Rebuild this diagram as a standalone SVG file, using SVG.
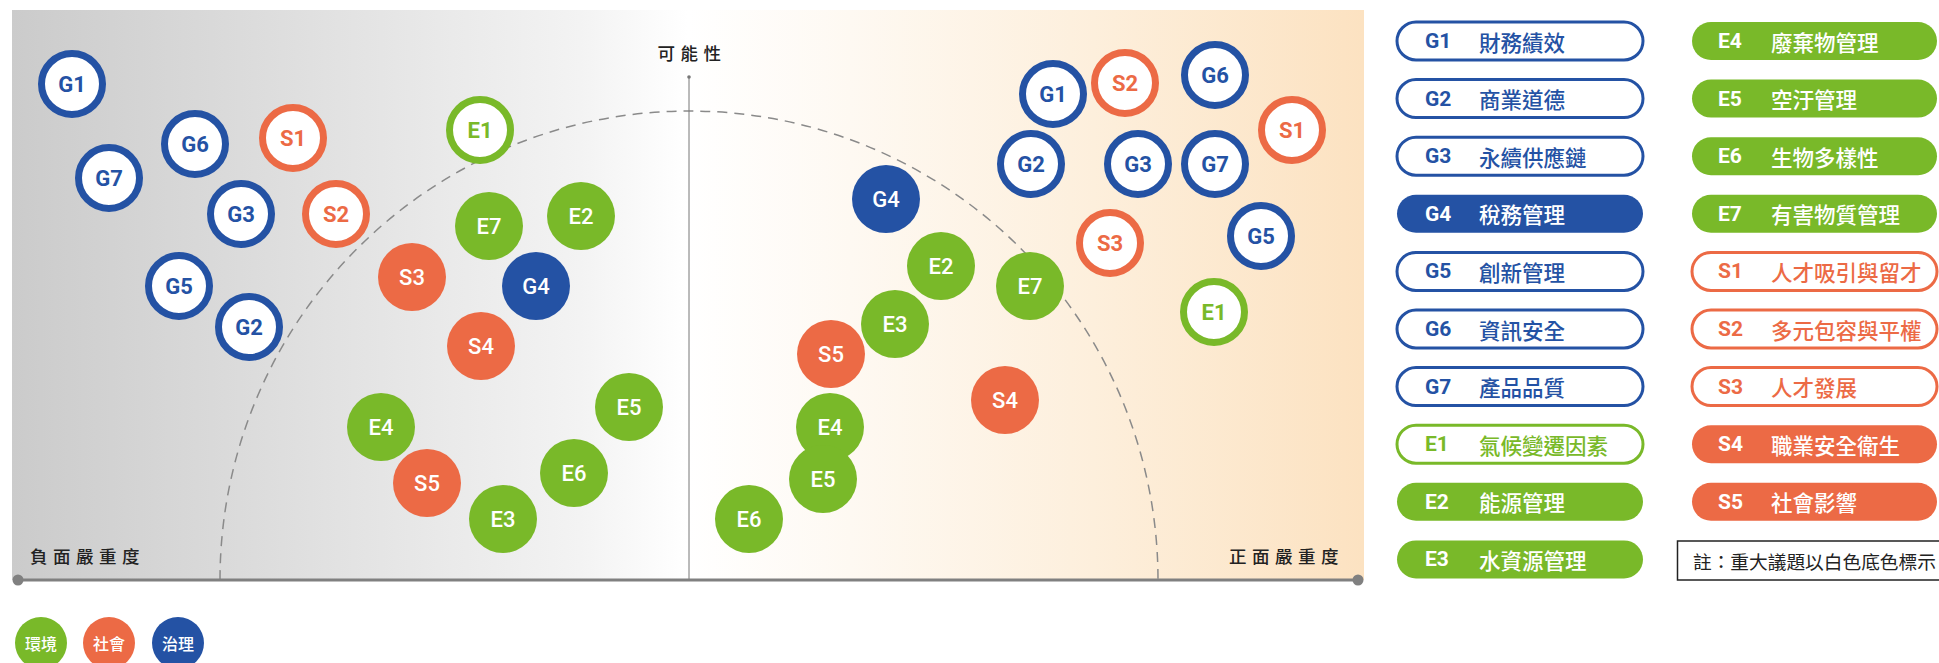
<svg xmlns="http://www.w3.org/2000/svg" width="1939" height="663" viewBox="0 0 1939 663">
<defs>
<linearGradient id="bg" x1="0" y1="0" x2="1" y2="0">
<stop offset="0" stop-color="#cbcbcb"/>
<stop offset="0.2" stop-color="#dedede"/>
<stop offset="0.42" stop-color="#f3f3f3"/>
<stop offset="0.5" stop-color="#ffffff"/>
<stop offset="0.62" stop-color="#fef9f2"/>
<stop offset="0.8" stop-color="#fdefdc"/>
<stop offset="1" stop-color="#fce2c1"/>
</linearGradient>
<style>
.ob{fill:#fff;stroke:#2452a4;stroke-width:7}
.oo{fill:#fff;stroke:#ec6a45;stroke-width:7}
.og{fill:#fff;stroke:#79b929;stroke-width:7}
.fb{fill:#2452a4}
.fo{fill:#ec6a45}
.fg{fill:#79b929}
.lab{font-family:Roboto,"Liberation Sans",sans-serif;font-size:22px;text-anchor:middle;dominant-baseline:central}
.lo{font-weight:700}
.lf{fill:#fff;font-weight:500}
.tb{fill:#2452a4}.to{fill:#ec6a45}.tg{fill:#79b929}.tw{fill:#fff}
.ax{font-family:"Noto Sans CJK TC","Noto Sans CJK SC",sans-serif;font-size:17.5px;font-weight:500;fill:#222;letter-spacing:5.5px}
.code{font-family:Roboto,"Liberation Sans",sans-serif;font-size:21px;font-weight:700;dominant-baseline:central}
.cj{font-family:"Noto Sans CJK TC","Noto Sans CJK SC",sans-serif;font-size:21.5px;font-weight:500;dominant-baseline:central}
.pb{fill:#fff;stroke:#2452a4;stroke-width:3}
.po{fill:#fff;stroke:#ec6a45;stroke-width:3}
.pg{fill:#fff;stroke:#79b929;stroke-width:3}
.leg{font-family:"Noto Sans CJK TC","Noto Sans CJK SC",sans-serif;font-size:16px;font-weight:500;fill:#fff;text-anchor:middle;dominant-baseline:central}
</style>
</defs>
<rect x="12" y="10" width="1352" height="570" fill="url(#bg)"/>
<g id="connectors">
<path d="M220 580 A469 469 0 0 1 1158 580" fill="none" stroke="#8a8a8a" stroke-width="1.5" stroke-dasharray="10 7"/>
<line x1="689" y1="77" x2="689" y2="580" stroke="#777" stroke-width="1"/>
<circle cx="689" cy="77" r="1.8" fill="#777"/>
<line x1="16" y1="580" x2="1358" y2="580" stroke="#808080" stroke-width="3"/>
<circle cx="18" cy="580" r="5.5" fill="#808080"/>
<circle cx="1358" cy="580" r="5.5" fill="#808080"/>
</g>
<text class="ax" x="692" y="60" text-anchor="middle">可能性</text>
<text class="ax" x="30" y="563">負面嚴重度</text>
<text class="ax" x="1229" y="563">正面嚴重度</text>
<!-- left side -->
<g id="L-G1"><circle class="ob" cx="72" cy="84" r="30.5"/><text class="lab lo tb" x="72" y="84">G1</text></g>
<g id="L-G6"><circle class="ob" cx="195" cy="144" r="30.5"/><text class="lab lo tb" x="195" y="144">G6</text></g>
<g id="L-S1"><circle class="oo" cx="293" cy="138" r="30.5"/><text class="lab lo to" x="293" y="138">S1</text></g>
<g id="L-G7"><circle class="ob" cx="109" cy="178" r="30.5"/><text class="lab lo tb" x="109" y="178">G7</text></g>
<g id="L-G3"><circle class="ob" cx="241" cy="214" r="30.5"/><text class="lab lo tb" x="241" y="214">G3</text></g>
<g id="L-S2"><circle class="oo" cx="336" cy="214" r="30.5"/><text class="lab lo to" x="336" y="214">S2</text></g>
<g id="L-E1"><circle class="og" cx="480" cy="130" r="30.5"/><text class="lab lo tg" x="480" y="130">E1</text></g>
<g id="L-E7"><circle class="fg" cx="489" cy="226" r="34"/><text class="lab lf" x="489" y="226">E7</text></g>
<g id="L-E2"><circle class="fg" cx="581" cy="216" r="34"/><text class="lab lf" x="581" y="216">E2</text></g>
<g id="L-S3"><circle class="fo" cx="412" cy="277" r="34"/><text class="lab lf" x="412" y="277">S3</text></g>
<g id="L-G4"><circle class="fb" cx="536" cy="286" r="34"/><text class="lab lf" x="536" y="286">G4</text></g>
<g id="L-G5"><circle class="ob" cx="179" cy="286" r="30.5"/><text class="lab lo tb" x="179" y="286">G5</text></g>
<g id="L-G2"><circle class="ob" cx="249" cy="327" r="30.5"/><text class="lab lo tb" x="249" y="327">G2</text></g>
<g id="L-S4"><circle class="fo" cx="481" cy="346" r="34"/><text class="lab lf" x="481" y="346">S4</text></g>
<g id="L-E5"><circle class="fg" cx="629" cy="407" r="34"/><text class="lab lf" x="629" y="407">E5</text></g>
<g id="L-E4"><circle class="fg" cx="381" cy="427" r="34"/><text class="lab lf" x="381" y="427">E4</text></g>
<g id="L-E6"><circle class="fg" cx="574" cy="473" r="34"/><text class="lab lf" x="574" y="473">E6</text></g>
<g id="L-S5"><circle class="fo" cx="427" cy="483" r="34"/><text class="lab lf" x="427" y="483">S5</text></g>
<g id="L-E3"><circle class="fg" cx="503" cy="519" r="34"/><text class="lab lf" x="503" y="519">E3</text></g>
<!-- right side -->
<g id="R-G1"><circle class="ob" cx="1053" cy="94" r="30.5"/><text class="lab lo tb" x="1053" y="94">G1</text></g>
<g id="R-S2"><circle class="oo" cx="1125" cy="83" r="30.5"/><text class="lab lo to" x="1125" y="83">S2</text></g>
<g id="R-G6"><circle class="ob" cx="1215" cy="75" r="30.5"/><text class="lab lo tb" x="1215" y="75">G6</text></g>
<g id="R-S1"><circle class="oo" cx="1292" cy="130" r="30.5"/><text class="lab lo to" x="1292" y="130">S1</text></g>
<g id="R-G2"><circle class="ob" cx="1031" cy="164" r="30.5"/><text class="lab lo tb" x="1031" y="164">G2</text></g>
<g id="R-G3"><circle class="ob" cx="1138" cy="164" r="30.5"/><text class="lab lo tb" x="1138" y="164">G3</text></g>
<g id="R-G7"><circle class="ob" cx="1215" cy="164" r="30.5"/><text class="lab lo tb" x="1215" y="164">G7</text></g>
<g id="R-G4"><circle class="fb" cx="886" cy="199" r="34"/><text class="lab lf" x="886" y="199">G4</text></g>
<g id="R-S3"><circle class="oo" cx="1110" cy="243" r="30.5"/><text class="lab lo to" x="1110" y="243">S3</text></g>
<g id="R-G5"><circle class="ob" cx="1261" cy="236" r="30.5"/><text class="lab lo tb" x="1261" y="236">G5</text></g>
<g id="R-E2"><circle class="fg" cx="941" cy="266" r="34"/><text class="lab lf" x="941" y="266">E2</text></g>
<g id="R-E7"><circle class="fg" cx="1030" cy="286" r="34"/><text class="lab lf" x="1030" y="286">E7</text></g>
<g id="R-E1"><circle class="og" cx="1214" cy="312" r="30.5"/><text class="lab lo tg" x="1214" y="312">E1</text></g>
<g id="R-E3"><circle class="fg" cx="895" cy="324" r="34"/><text class="lab lf" x="895" y="324">E3</text></g>
<g id="R-S5"><circle class="fo" cx="831" cy="354" r="34"/><text class="lab lf" x="831" y="354">S5</text></g>
<g id="R-S4"><circle class="fo" cx="1005" cy="400" r="34"/><text class="lab lf" x="1005" y="400">S4</text></g>
<g id="R-E4"><circle class="fg" cx="830" cy="427" r="34"/><text class="lab lf" x="830" y="427">E4</text></g>
<g id="R-E5"><circle class="fg" cx="823" cy="479" r="34"/><text class="lab lf" x="823" y="479">E5</text></g>
<g id="R-E6"><circle class="fg" cx="749" cy="519" r="34"/><text class="lab lf" x="749" y="519">E6</text></g>
<!-- category legend -->
<g id="leg-env"><circle class="fg" cx="41" cy="643" r="26"/><text class="leg" x="41" y="643">環境</text></g>
<g id="leg-soc"><circle class="fo" cx="109" cy="643" r="26"/><text class="leg" x="109" y="643">社會</text></g>
<g id="leg-gov"><circle class="fb" cx="178" cy="643" r="26"/><text class="leg" x="178" y="643">治理</text></g>
<!-- issue legend column 1 -->
<g id="p-G1"><rect class="pb" x="1397" y="22" width="246" height="38" rx="19"/><text class="code tb" x="1425" y="41">G1</text><text class="cj tb" x="1479" y="41">財務績效</text></g>
<g id="p-G2"><rect class="pb" x="1397" y="79.6" width="246" height="38" rx="19"/><text class="code tb" x="1425" y="98.6">G2</text><text class="cj tb" x="1479" y="98.6">商業道德</text></g>
<g id="p-G3"><rect class="pb" x="1397" y="137.2" width="246" height="38" rx="19"/><text class="code tb" x="1425" y="156.2">G3</text><text class="cj tb" x="1479" y="156.2">永續供應鏈</text></g>
<g id="p-G4"><rect class="fb" x="1397" y="194.8" width="246" height="38" rx="19"/><text class="code tw" x="1425" y="213.8">G4</text><text class="cj tw" x="1479" y="213.8">稅務管理</text></g>
<g id="p-G5"><rect class="pb" x="1397" y="252.4" width="246" height="38" rx="19"/><text class="code tb" x="1425" y="271.4">G5</text><text class="cj tb" x="1479" y="271.4">創新管理</text></g>
<g id="p-G6"><rect class="pb" x="1397" y="310" width="246" height="38" rx="19"/><text class="code tb" x="1425" y="329">G6</text><text class="cj tb" x="1479" y="329">資訊安全</text></g>
<g id="p-G7"><rect class="pb" x="1397" y="367.6" width="246" height="38" rx="19"/><text class="code tb" x="1425" y="386.6">G7</text><text class="cj tb" x="1479" y="386.6">產品品質</text></g>
<g id="p-E1"><rect class="pg" x="1397" y="425.2" width="246" height="38" rx="19"/><text class="code tg" x="1425" y="444.2">E1</text><text class="cj tg" x="1479" y="444.2">氣候變遷因素</text></g>
<g id="p-E2"><rect class="fg" x="1397" y="482.8" width="246" height="38" rx="19"/><text class="code tw" x="1425" y="501.8">E2</text><text class="cj tw" x="1479" y="501.8">能源管理</text></g>
<g id="p-E3"><rect class="fg" x="1397" y="540.4" width="246" height="38" rx="19"/><text class="code tw" x="1425" y="559.4">E3</text><text class="cj tw" x="1479" y="559.4">水資源管理</text></g>
<!-- issue legend column 2 -->
<g id="p-E4"><rect class="fg" x="1692" y="22" width="245" height="38" rx="19"/><text class="code tw" x="1718" y="41">E4</text><text class="cj tw" x="1771" y="41">廢棄物管理</text></g>
<g id="p-E5"><rect class="fg" x="1692" y="79.6" width="245" height="38" rx="19"/><text class="code tw" x="1718" y="98.6">E5</text><text class="cj tw" x="1771" y="98.6">空汙管理</text></g>
<g id="p-E6"><rect class="fg" x="1692" y="137.2" width="245" height="38" rx="19"/><text class="code tw" x="1718" y="156.2">E6</text><text class="cj tw" x="1771" y="156.2">生物多樣性</text></g>
<g id="p-E7"><rect class="fg" x="1692" y="194.8" width="245" height="38" rx="19"/><text class="code tw" x="1718" y="213.8">E7</text><text class="cj tw" x="1771" y="213.8">有害物質管理</text></g>
<g id="p-S1"><rect class="po" x="1692" y="252.4" width="245" height="38" rx="19"/><text class="code to" x="1718" y="271.4">S1</text><text class="cj to" x="1771" y="271.4">人才吸引與留才</text></g>
<g id="p-S2"><rect class="po" x="1692" y="310" width="245" height="38" rx="19"/><text class="code to" x="1718" y="329">S2</text><text class="cj to" x="1771" y="329">多元包容與平權</text></g>
<g id="p-S3"><rect class="po" x="1692" y="367.6" width="245" height="38" rx="19"/><text class="code to" x="1718" y="386.6">S3</text><text class="cj to" x="1771" y="386.6">人才發展</text></g>
<g id="p-S4"><rect class="fo" x="1692" y="425.2" width="245" height="38" rx="19"/><text class="code tw" x="1718" y="444.2">S4</text><text class="cj tw" x="1771" y="444.2">職業安全衛生</text></g>
<g id="p-S5"><rect class="fo" x="1692" y="482.8" width="245" height="38" rx="19"/><text class="code tw" x="1718" y="501.8">S5</text><text class="cj tw" x="1771" y="501.8">社會影響</text></g>
<g id="note"><rect x="1677.5" y="541" width="270" height="39" fill="#fff" stroke="#222" stroke-width="1.5"/><text x="1693" y="560.5" font-family="Noto Sans CJK TC, Noto Sans CJK SC, sans-serif" font-size="18.7" fill="#222" dominant-baseline="central">註：重大議題以白色底色標示</text></g>
</svg>
